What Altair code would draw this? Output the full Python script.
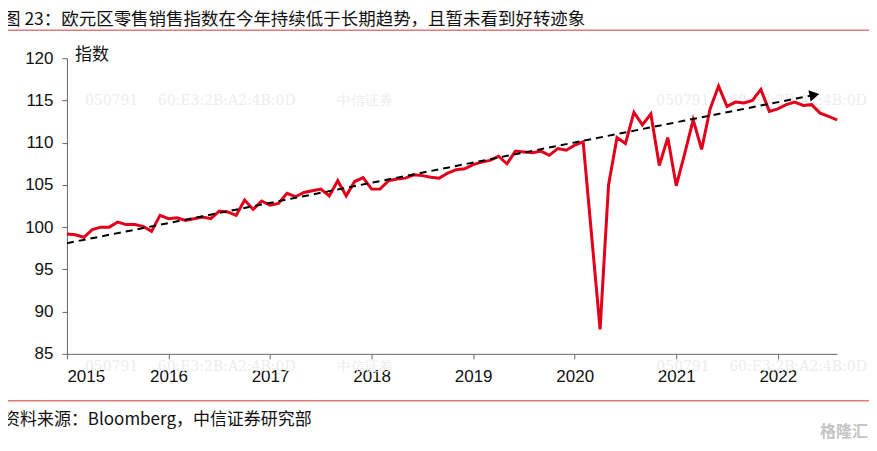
import altair as alt
import pandas as pd

# Monthly Euro-area retail sales index, Jan 2015 - Aug 2022
start = "2015-01"
values = [
    99.2, 99.1, 98.8, 99.7, 100.0, 100.0, 100.6, 100.3, 100.3, 100.1, 99.5, 101.4,
    101.0, 101.1, 100.8, 101.0, 101.2, 101.0, 101.9, 101.8, 101.4, 103.2, 102.1, 103.1,
    102.6, 102.8, 104.0, 103.6, 104.1, 104.3, 104.5, 103.7, 105.5, 103.7, 105.4, 105.85,
    104.5, 104.5, 105.5, 105.7, 105.8, 106.2, 106.1, 105.9, 105.8, 106.4, 106.8, 106.9,
    107.4, 107.7, 107.9, 108.4, 107.5, 109.0, 108.9, 108.8, 109.0, 108.5, 109.3, 109.1,
    109.7, 110.1, 99.0, 87.9, 105.0, 110.6, 109.9, 113.6, 112.1, 113.4, 107.3, 110.6,
    104.9, 108.7, 112.7, 109.2, 114.0, 116.7, 114.3, 114.8, 114.7, 115.0, 116.3, 113.7,
    114.0, 114.5, 114.8, 114.4, 114.5, 113.5, 113.1, 112.7,
]
# long-term trend (dashed arrow)
trend_x = [2015.0, 2022.40]
trend_y = [98.1, 115.75]
arrow_x = [2022.36]
arrow_y = [115.66]

year_ticks = [2015, 2016, 2017, 2018, 2019, 2020, 2021, 2022]
y_ticks = [85, 90, 95, 100, 105, 110, 115, 120]

title_text = "图 23：欧元区零售销售指数在今年持续低于长期趋势，且暂未看到好转迹象"
source_text = "资料来源：Bloomberg，中信证券研究部"
y_label = "指数"
watermark_parts = ["050791", "60:E3:2B:A2:4B:0D", "中信证券"]

months = pd.date_range(start, periods=len(values), freq="MS")
df = pd.DataFrame({
    "t": [m.year + (m.month - 1) / 12 for m in months],
    "v": values,
})
trend = pd.DataFrame({"t": trend_x, "v": trend_y})
arrow = pd.DataFrame({"t": arrow_x, "v": arrow_y})

x_scale = alt.Scale(domain=[2015, 2022 + 7 / 12], nice=False, zero=False)
y_scale = alt.Scale(domain=[85, 120], nice=False, zero=False)
x_axis = alt.Axis(values=year_ticks, format="d", title=None, tickSize=5,
                  labelPadding=10, grid=False)
y_axis = alt.Axis(values=y_ticks, title=None, tickSize=5, labelPadding=9, grid=False)

line = alt.Chart(df).mark_line(color="#e2001a", strokeWidth=3).encode(
    x=alt.X("t:Q", scale=x_scale, axis=x_axis),
    y=alt.Y("v:Q", scale=y_scale, axis=y_axis),
)
trend_line = alt.Chart(trend).mark_line(color="black", strokeWidth=2, strokeDash=[7, 5]).encode(
    x=alt.X("t:Q", scale=x_scale), y=alt.Y("v:Q", scale=y_scale)
)
arrow_head = alt.Chart(arrow).mark_point(
    shape="triangle-right", filled=True, size=130, angle=348.8, color="black", opacity=1
).encode(x=alt.X("t:Q", scale=x_scale), y=alt.Y("v:Q", scale=y_scale))


def txt(s, x, y, size=17, color="#111", font="Noto Sans CJK SC", align="left", weight="normal"):
    return alt.Chart(pd.DataFrame({"s": [s]})).mark_text(
        align=align, baseline="middle", fontSize=size, color=color, font=font, fontWeight=weight
    ).encode(text="s:N", x=alt.value(x), y=alt.value(y))


def hrule(y, x1, x2, color="#e07b7b", w=1.5):
    return alt.Chart(pd.DataFrame({"a": [0]})).mark_rule(color=color, strokeWidth=w).encode(
        x=alt.value(x1), x2=alt.value(x2), y=alt.value(y)
    )


wm_color = "#ededed"
wm_offsets = [0, 73, 252]
watermarks = []
for bx in (18, 590):
    for by in (43, 309):
        for part, dx in zip(watermark_parts, wm_offsets):
            watermarks.append(txt(part, bx + dx, by, size=14, color=wm_color, font="DejaVu Serif"))

layers = watermarks + [
    line,
    trend_line,
    arrow_head,
    txt(title_text, -64, -38.5, size=17.5, color="#111"),
    hrule(-28, -65, 808),
    txt(y_label, 8, -3, size=17, color="#111"),
    hrule(343, -65, 808),
    txt(source_text, -64, 362, size=17, color="#111"),
    txt("格隆汇", 778, 374, size=16, color="#c4c4c4", align="center", weight="bold"),
]

chart = alt.layer(*layers).properties(
    width=771,
    height=296,
    padding={"left": 59, "top": 50, "right": 32, "bottom": 85},
    autosize=alt.AutoSizeParams(type="none"),
).configure_view(stroke=None).configure_axis(
    domainColor="#666666",
    tickColor="#666666",
    labelColor="#111111",
    labelFont="Liberation Sans",
    labelFontSize=17,
)

chart.save("out.html", embed_options={"renderer": "svg", "actions": False})
